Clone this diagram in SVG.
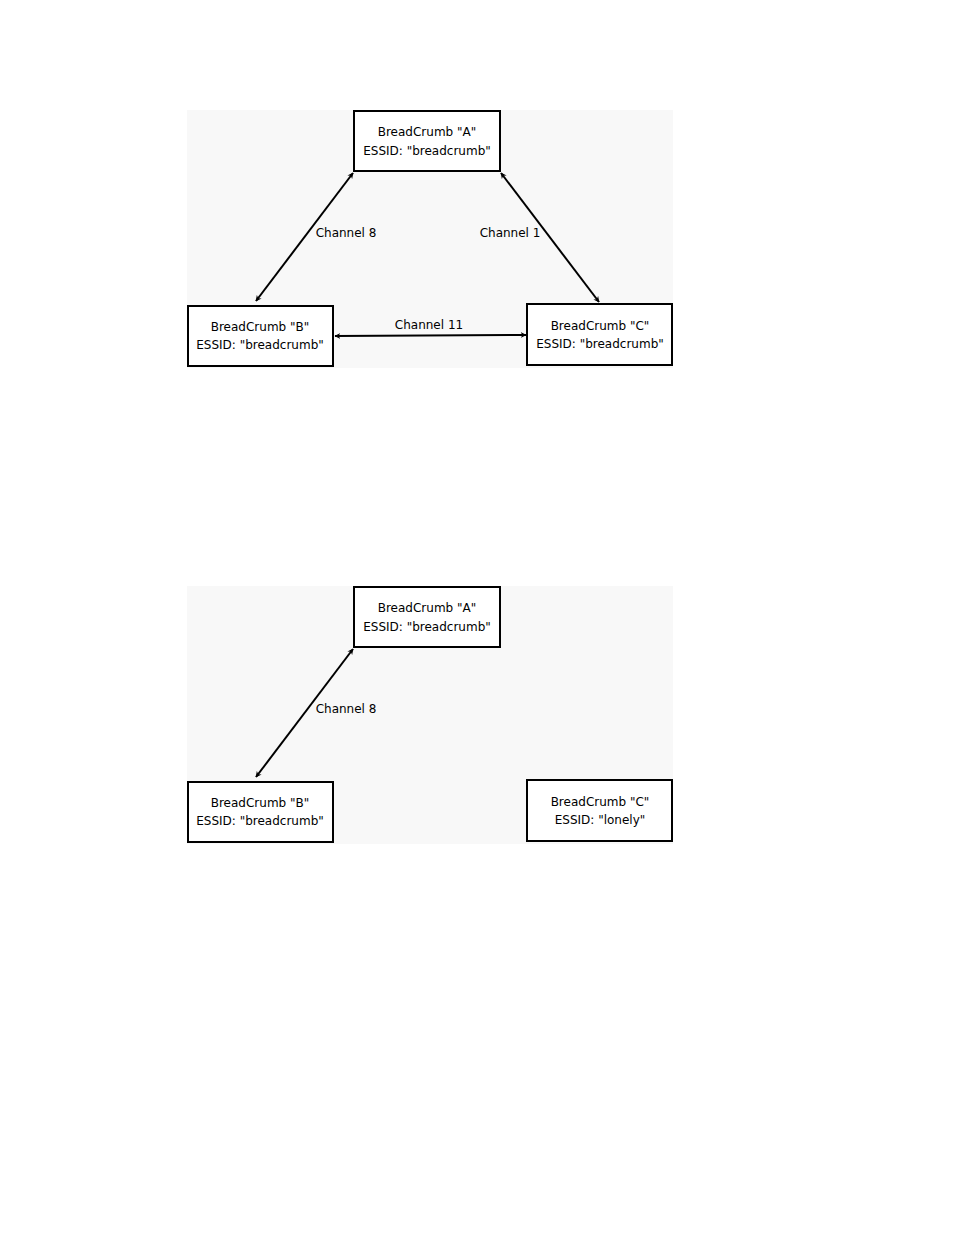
<svg xmlns="http://www.w3.org/2000/svg" width="954" height="1235" viewBox="0 0 954 1235">
<style>
.bg{fill:#f8f8f8}
.box{fill:#fff;stroke:#000;stroke-width:2}
text{font-family:"DejaVu Sans",sans-serif;font-size:12px;fill:#000;text-anchor:middle}
.c{stroke:#000;stroke-width:2;fill:none;marker-start:url(#a);marker-end:url(#a)}
</style>
<defs><marker id="a" viewBox="0 0 10 10" refX="9" refY="5" markerWidth="6" markerHeight="6" orient="auto-start-reverse" markerUnits="userSpaceOnUse"><path d="M0,0 L10,5 L0,10 L3,5 z" fill="#000"/></marker></defs>
<rect width="954" height="1235" fill="#fff"/>
<rect class="bg" x="187" y="110" width="486" height="258"/>
<rect class="bg" x="187" y="586" width="486" height="258"/>
<g id="connectors">
<line class="c" x1="353" y1="173" x2="256" y2="301"/>
<line class="c" x1="501" y1="173" x2="599" y2="302"/>
<line class="c" x1="335" y1="336" x2="526" y2="335"/>
<line class="c" x1="353" y1="649" x2="256" y2="777"/>
<text x="346" y="237">Channel 8</text>
<text x="510" y="237">Channel 1</text>
<text x="429" y="329">Channel 11</text>
<text x="346" y="713">Channel 8</text>
</g>
<g id="A1"><rect class="box" x="354" y="111" width="146" height="60"/><text x="427" y="136">BreadCrumb "A"</text><text x="427" y="155">ESSID: "breadcrumb"</text></g>
<g id="B1"><rect class="box" x="188" y="306" width="145" height="60"/><text x="260" y="331">BreadCrumb "B"</text><text x="260" y="349">ESSID: "breadcrumb"</text></g>
<g id="C1"><rect class="box" x="527" y="304" width="145" height="61"/><text x="600" y="330">BreadCrumb "C"</text><text x="600" y="348">ESSID: "breadcrumb"</text></g>
<g id="A2"><rect class="box" x="354" y="587" width="146" height="60"/><text x="427" y="612">BreadCrumb "A"</text><text x="427" y="631">ESSID: "breadcrumb"</text></g>
<g id="B2"><rect class="box" x="188" y="782" width="145" height="60"/><text x="260" y="807">BreadCrumb "B"</text><text x="260" y="825">ESSID: "breadcrumb"</text></g>
<g id="C2"><rect class="box" x="527" y="780" width="145" height="61"/><text x="600" y="806">BreadCrumb "C"</text><text x="600" y="824">ESSID: "lonely"</text></g>
</svg>
